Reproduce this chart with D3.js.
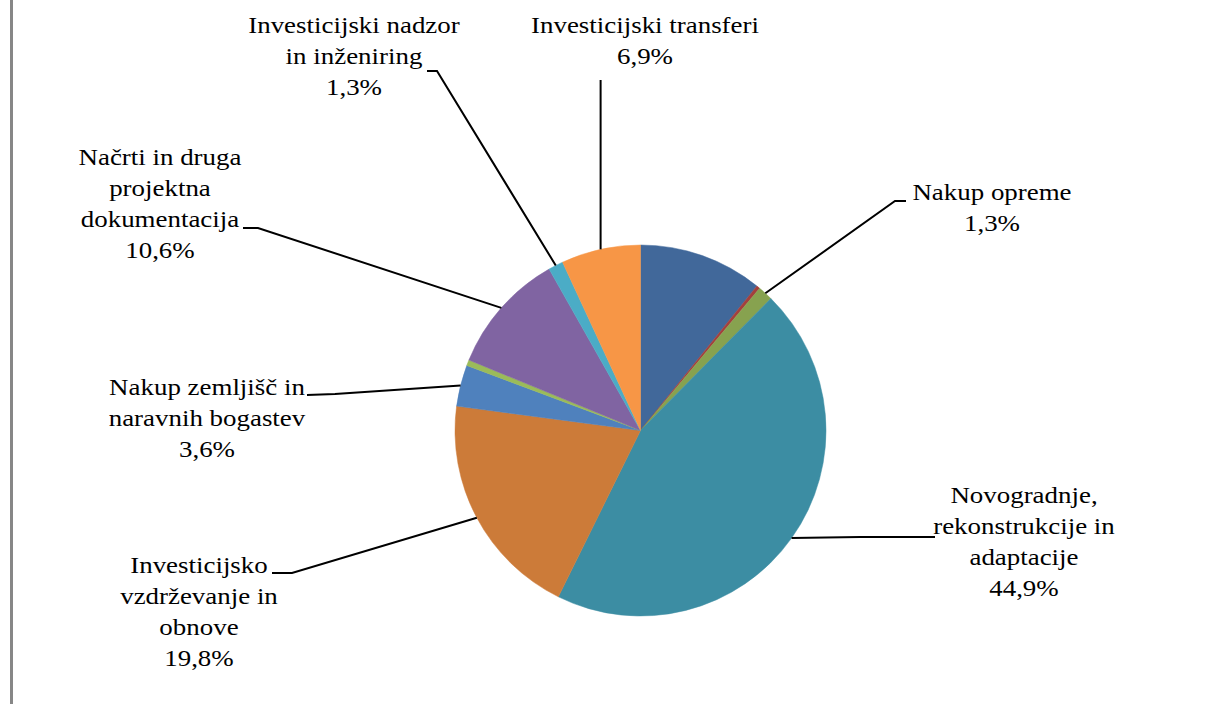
<!DOCTYPE html>
<html>
<head>
<meta charset="utf-8">
<script src="https://cdn.jsdelivr.net/npm/d3@7/dist/d3.min.js"></script>
</head>
<body style="margin:0">
<svg id="chart" width="1210" height="704"></svg>
<script>
// ---- Data ----
const categories = [
  "",
  "",
  "Nakup opreme",
  "Novogradnje,\nrekonstrukcije in\nadaptacije",
  "Investicijsko\nvzdrževanje in\nobnove",
  "Nakup zemljišč in\nnaravnih bogastev",
  "",
  "Načrti in druga\nprojektna\ndokumentacija",
  "Investicijski nadzor\nin inženiring",
  "Investicijski transferi"
];
const values = [10.8, 0.3, 1.3, 44.9, 19.8, 3.6, 0.5, 10.6, 1.3, 6.9];
const showLabel = [false, false, true, true, true, true, false, true, true, true];

// ---- Styles / layout ----
const colors = ["#41689A", "#A3403D", "#87A24F", "#3C8DA3", "#CC7B39",
                "#4F81BD", "#9BBB59", "#8064A2", "#4BACC6", "#F79646"];
const labelLayout = {
  2: { cx: 992, y: 200, elbow: [895, 201], end: [906, 201] },
  3: { cx: 1024, y: 503, elbow: [860, 537], end: [935, 537] },
  4: { cx: 199, y: 573, elbow: [292, 573], end: [272, 573] },
  5: { cx: 207, y: 395, elbow: [335, 394], end: [307, 395] },
  7: { cx: 160, y: 165, elbow: [258, 228], end: [243, 228] },
  8: { cx: 354, y: 33, elbow: [437, 71], end: [427, 71] },
  9: { cx: 645, y: 33, elbow: [null, 80], end: [null, 80] }
};
const lineHeight = 31;
const fontSize = 23;
const stretchX = 1.17;
const fontFamily = 'Tinos, "Nimbus Roman", "Liberation Serif", "Times New Roman", FreeSerif';

const W = 1210, H = 704;
const cx = 640.5, cy = 430.5, R = 185.5;

const svg = d3.select("#chart");

svg.append("rect").attr("x", 10).attr("y", 0).attr("width", 3).attr("height", H).attr("fill", "#878787");

const pie = d3.pie().sort(null).value(d => d);
const arcs = pie(values);
const arc = d3.arc().innerRadius(0).outerRadius(R);

const g = svg.append("g").attr("transform", `translate(${cx},${cy})`);
g.selectAll("path.slice")
  .data(arcs)
  .join("path")
  .attr("class", "slice")
  .attr("d", arc)
  .attr("fill", (d, i) => colors[i])
  .attr("stroke", (d, i) => colors[i])
  .attr("stroke-width", 0.5);

const fmt = v => d3.format(".1f")(v).replace(".", ",") + "%";

arcs.forEach((a, i) => {
  if (!showLabel[i]) return;
  const L = labelLayout[i];
  const mid = (a.startAngle + a.endAngle) / 2;
  const ex = cx + R * Math.sin(mid);
  const ey = cy - R * Math.cos(mid);
  const elbowX = L.elbow[0] === null ? ex : L.elbow[0];
  const endX = L.end[0] === null ? ex : L.end[0];
  svg.append("path")
    .attr("d", d3.line()([[ex, ey], [elbowX, L.elbow[1]], [endX, L.end[1]]]))
    .attr("fill", "none")
    .attr("stroke", "#000")
    .attr("stroke-width", 2);

  const lines = categories[i].split("\n").concat([fmt(values[i])]);
  lines.forEach((t, k) => {
    const el = svg.append("text")
      .attr("x", L.cx)
      .attr("y", L.y + k * lineHeight)
      .attr("text-anchor", "middle")
      .attr("font-size", fontSize)
      .style("font-family", fontFamily)
      .text(t);
    const w = el.node().getComputedTextLength();
    el.attr("textLength", w * stretchX).attr("lengthAdjust", "spacingAndGlyphs");
  });
});
</script>
</body>
</html>
